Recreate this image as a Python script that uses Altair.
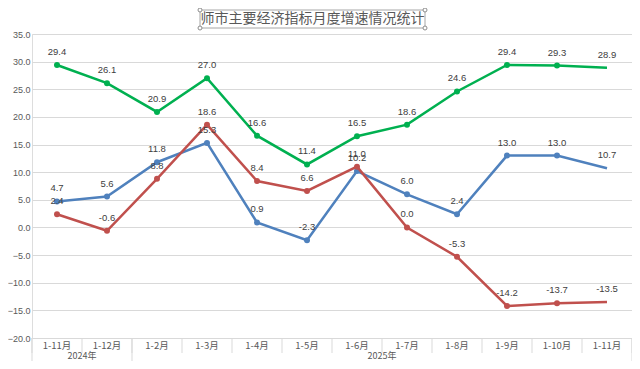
import altair as alt
import pandas as pd

months = ["1-11月", "1-12月", "1-2月", "1-3月", "1-4月", "1-5月",
          "1-6月", "1-7月", "1-8月", "1-9月", "1-10月", "1-11月"]
years = ["2024年", "2025年"]
year_centers = [0.5, 6.5]
year_bounds = [-0.5, 1.5, 11.5]

green_vals = [29.4, 26.1, 20.9, 27.0, 16.6, 11.4, 16.5, 18.6, 24.6, 29.4, 29.3, 28.9]
blue_vals = [4.7, 5.6, 11.8, 15.3, 0.9, -2.3, 10.2, 6.0, 2.4, 13.0, 13.0, 10.7]
red_vals = [2.4, -0.6, 8.8, 18.6, 8.4, 6.6, 11.0, 0.0, -5.3, -14.2, -13.7, -13.5]
y_ticks = [-20, -15, -10, -5, 0, 5, 10, 15, 20, 25, 30, 35]

title_text = "师市主要经济指标月度增速情况统计"

W, H = 600, 304
NUM_FONT = "Liberation Sans"
CJK_FONT = "Noto Sans CJK SC"

xs = alt.Scale(domain=[-0.5, 11.5], nice=False, zero=False)
ys = alt.Scale(domain=[-20, 35], nice=False, zero=False)
y_axis = alt.Axis(
    values=y_ticks, format=".1f", title=None, tickCount=12,
    grid=True, gridColor="#d9d9d9", gridWidth=1, domain=False, ticks=False,
    labelOverlap=False, labelPadding=2, labelFontSize=9, labelFont=NUM_FONT,
    labelColor="#595959")

series = [("blue", blue_vals, "#4f81bd"), ("red", red_vals, "#c0504d"), ("green", green_vals, "#00b050")]


def X(f):
    return alt.X(f, scale=xs, axis=None)


def Y(f):
    return alt.Y(f, scale=ys, axis=y_axis)


layers = []

for name, vals, col in series:
    df = pd.DataFrame({"idx": list(range(len(months))), "v": vals})
    line = alt.Chart(df).mark_line(color=col, strokeWidth=2.5).encode(x=X("idx:Q"), y=Y("v:Q"))
    pts = alt.Chart(df).transform_filter(alt.datum.idx < 11).mark_circle(
        color=col, size=36, opacity=1).encode(x=X("idx:Q"), y=Y("v:Q"))
    layers += [line, pts]

for name, vals, col in series:
    df = pd.DataFrame({"idx": list(range(len(months))), "v": vals,
                       "lab": [f"{v:.1f}" for v in vals]})
    txt = alt.Chart(df).mark_text(dy=-13, fontSize=9.5, font=NUM_FONT, color="#404040").encode(
        x=X("idx:Q"), y=Y("v:Q"), text="lab:N")
    layers.append(txt)

mdf = pd.DataFrame({"idx": list(range(len(months))), "m": months})
layers.append(alt.Chart(mdf).mark_text(fontSize=9.5, font=CJK_FONT, color="#595959").encode(
    x=X("idx:Q"), y=alt.value(H + 8), text="m:N"))

ydf = pd.DataFrame({"c": year_centers, "y": years})
layers.append(alt.Chart(ydf).mark_text(fontSize=9, font=CJK_FONT, color="#595959").encode(
    x=X("c:Q"), y=alt.value(H + 18), text="y:N"))

sdf = pd.DataFrame({"b": [i - 0.5 for i in range(len(months) + 1)]})
layers.append(alt.Chart(sdf).mark_rule(color="#d9d9d9", strokeWidth=1).encode(
    x=X("b:Q"), y=alt.value(H), y2=alt.value(H + 15)))
ybdf = pd.DataFrame({"b": year_bounds})
layers.append(alt.Chart(ybdf).mark_rule(color="#d9d9d9", strokeWidth=1).encode(
    x=X("b:Q"), y=alt.value(H), y2=alt.value(H + 30)))

tdf = pd.DataFrame({"t": [title_text]})
layers.append(alt.Chart(tdf).mark_rect(fill="white", stroke="#a6a6a6", strokeWidth=1).encode(
    x=alt.value(168), x2=alt.value(393), y=alt.value(-24), y2=alt.value(-6)))
layers.append(alt.Chart(tdf).mark_text(fontSize=14, font=CJK_FONT, color="#595959").encode(
    x=alt.value(280.5), y=alt.value(-15), text="t:N"))
for hx, hy in [(168, -24), (393, -24), (168, -6), (393, -6)]:
    layers.append(alt.Chart(tdf).mark_point(shape="circle", size=16, filled=True, fill="white",
                                           stroke="#8c8c8c", strokeWidth=1, opacity=1).encode(
        x=alt.value(hx), y=alt.value(hy)))

chart = alt.layer(*layers).properties(
    width=W, height=H,
    autosize=alt.AutoSizeParams(type="none"),
    padding={"left": 24, "top": 26, "right": 0, "bottom": 23},
).configure_view(stroke=None).configure(background="white")

chart.save("out.html", embed_options={"renderer": "svg", "actions": False})
